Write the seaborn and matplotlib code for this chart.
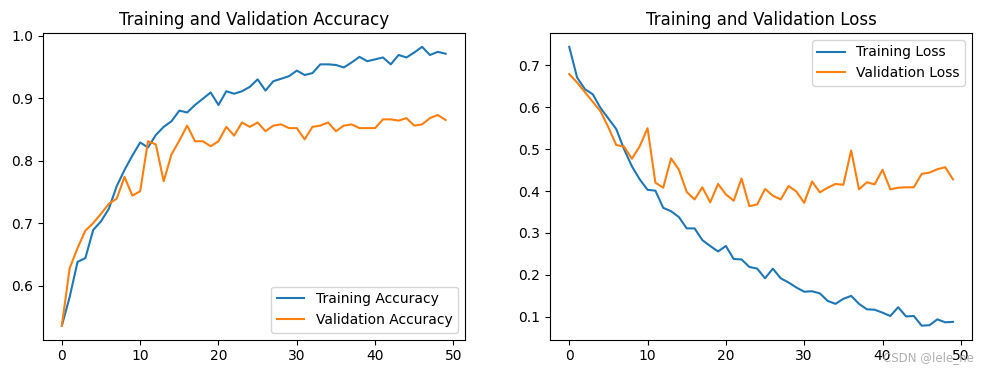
import numpy as np
import pandas as pd
import seaborn as sns
import matplotlib
matplotlib.use("Agg")
import matplotlib.pyplot as plt

# values (50 epochs)
epochs = list(range(50))

acc = [0.536, 0.582, 0.638, 0.644, 0.689, 0.703, 0.723, 0.759, 0.785, 0.808,
       0.829, 0.821, 0.841, 0.854, 0.863, 0.880, 0.877, 0.889, 0.899, 0.909,
       0.889, 0.911, 0.907, 0.911, 0.918, 0.930, 0.912, 0.927, 0.931, 0.935,
       0.944, 0.937, 0.940, 0.954, 0.954, 0.953, 0.949, 0.957, 0.966, 0.959,
       0.962, 0.965, 0.954, 0.969, 0.965, 0.973, 0.982, 0.969, 0.974, 0.971]

val_acc = [0.536, 0.628, 0.660, 0.688, 0.700, 0.715, 0.731, 0.739, 0.774, 0.744,
           0.751, 0.831, 0.826, 0.767, 0.810, 0.832, 0.856, 0.831, 0.831, 0.823,
           0.831, 0.854, 0.840, 0.861, 0.854, 0.861, 0.847, 0.856, 0.858, 0.852,
           0.852, 0.834, 0.854, 0.856, 0.861, 0.847, 0.856, 0.858, 0.852, 0.852,
           0.852, 0.866, 0.866, 0.864, 0.868, 0.856, 0.858, 0.868, 0.873, 0.865]

loss = [0.744, 0.671, 0.643, 0.631, 0.598, 0.573, 0.548, 0.500, 0.459, 0.428,
        0.403, 0.401, 0.360, 0.352, 0.338, 0.311, 0.311, 0.283, 0.269, 0.256,
        0.269, 0.238, 0.237, 0.219, 0.215, 0.192, 0.215, 0.192, 0.182, 0.170,
        0.160, 0.161, 0.156, 0.138, 0.131, 0.143, 0.150, 0.131, 0.118, 0.117,
        0.110, 0.102, 0.123, 0.101, 0.102, 0.079, 0.080, 0.094, 0.087, 0.088]

val_loss = [0.679, 0.659, 0.636, 0.613, 0.590, 0.552, 0.510, 0.506, 0.477, 0.507,
            0.550, 0.420, 0.408, 0.478, 0.451, 0.398, 0.380, 0.409, 0.373, 0.417,
            0.392, 0.377, 0.430, 0.364, 0.368, 0.405, 0.389, 0.380, 0.412, 0.399,
            0.372, 0.423, 0.397, 0.408, 0.417, 0.415, 0.497, 0.404, 0.421, 0.416,
            0.451, 0.404, 0.408, 0.409, 0.409, 0.441, 0.444, 0.452, 0.457, 0.428]

df = pd.DataFrame({'epoch': epochs, 'acc': acc, 'val_acc': val_acc,
                   'loss': loss, 'val_loss': val_loss})

fig, axes = plt.subplots(1, 2, figsize=(9.81, 3.74), dpi=100)
plt.subplots_adjust(left=0.0435, right=0.991, bottom=0.092, top=0.912, wspace=0.202)

# accuracy
ax = axes[0]
sns.lineplot(x='epoch', y='acc', data=df, ax=ax, color='#1f77b4', label='Training Accuracy')
sns.lineplot(x='epoch', y='val_acc', data=df, ax=ax, color='#ff7f0e', label='Validation Accuracy')
ax.legend(loc='lower right')
ax.set_title('Training and Validation Accuracy')
ax.set_xlabel('')
ax.set_ylabel('')
ax.set_xticks([0, 10, 20, 30, 40, 50])

# loss
ax = axes[1]
sns.lineplot(x='epoch', y='loss', data=df, ax=ax, color='#1f77b4', label='Training Loss')
sns.lineplot(x='epoch', y='val_loss', data=df, ax=ax, color='#ff7f0e', label='Validation Loss')
ax.legend(loc='upper right')
ax.set_title('Training and Validation Loss')
ax.set_xlabel('')
ax.set_ylabel('')
ax.set_xticks([0, 10, 20, 30, 40, 50])

# watermark (sits over the tick labels, as in the source image)
fig.text(0.993, 0.043, 'CSDN @lele_ne', ha='right', va='center', color='#b0b0b0', fontsize=8.5)

plt.savefig('out.png', dpi=100)
